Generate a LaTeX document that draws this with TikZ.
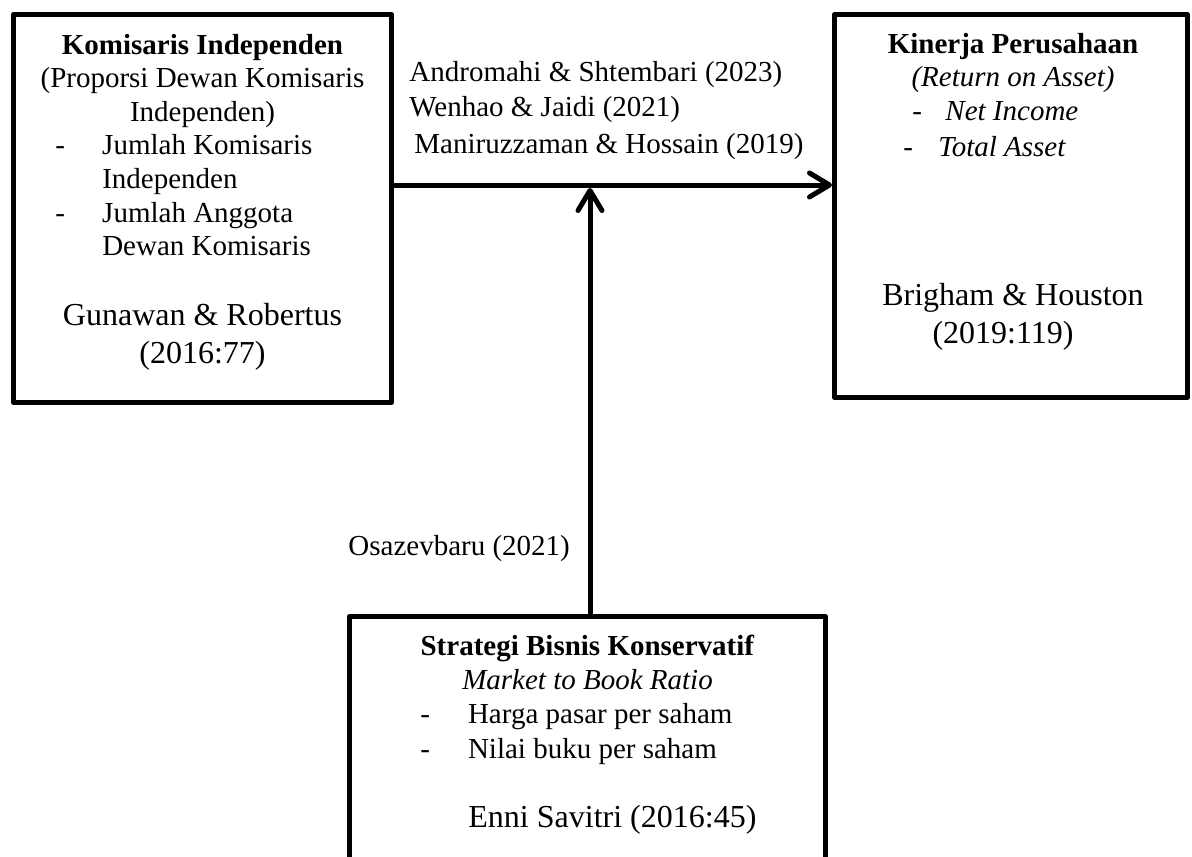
\documentclass[tikz,border=0pt]{standalone}
\usepackage{fontspec}
\setmainfont{Liberation Serif}
\usetikzlibrary{arrows.meta}
\tikzset{
  box/.style={draw, line width=2.5pt, line join=round, inner sep=0pt},
  arr/.style={line width=2.5pt, -{Straight Barb[length=10pt,width=12pt,round]}},
  body/.style={font=\fontsize{14.5}{16.75}\selectfont, inner sep=0pt},
  cite/.style={font=\fontsize{16}{19}\selectfont, inner sep=0pt}
}

\begin{document}
\begin{tikzpicture}[x=0.5pt,y=-0.5pt]
\useasboundingbox (0,0) rectangle (1192,856);
\clip (0,0) rectangle (1192,856);

\node[box, minimum width=189pt, minimum height=194pt] (komisaris) at (202.5,208.5) {};
\node[box, minimum width=176.5pt, minimum height=191.5pt] (kinerja) at (1011,206) {};
\node[box, minimum width=238pt, minimum height=150pt] (strategi) at (587.5,766.5) {};

\coordinate (join) at (590,185);
\draw[arr] (join -| komisaris.east) -- (join -| kinerja.west);
\draw[arr] (strategi.north -| join) -- ([yshift=-1.5pt]join);

\node[body, anchor=base, align=center] (komtitle) at (202.5,121) {\textbf{Komisaris Independen}\\(Proporsi Dewan Komisaris\\Independen)};
\node[body, anchor=base west] (komlist) at (55,155) {\begin{tabular}[t]{@{}l@{\hspace{18.6pt}}l@{}}
- & Jumlah Komisaris\\
  & Independen\\
- & Jumlah Anggota\\
  & Dewan Komisaris
\end{tabular}};
\node[cite, anchor=base, align=center] (komcite) at (202.5,363) {Gunawan \& Robertus\\(2016:77)};

\node[body, anchor=base, align=center] (kintitle) at (1013,87) {\textbf{Kinerja Perusahaan}\\\textit{(Return on Asset)}};
\node[body, anchor=base west] (kinnet) at (912,120) {-\hspace{11.7pt}\textit{Net Income}};
\node[body, anchor=base west] (kintotal) at (903,156) {-\hspace{12.6pt}\textit{Total Asset}};
\node[cite, anchor=base] (kincite) at (1013,305) {Brigham \& Houston};
\node[cite, anchor=base] (kinyear) at (1003,343) {(2019:119)};

\node[body, anchor=base, align=center] (strtitle) at (587.5,689) {\textbf{Strategi Bisnis Konservatif}\\\textit{Market to Book Ratio}};
\node[body, anchor=base west] (strlist) at (420,723) {\begin{tabular}[t]{@{}l@{\hspace{19pt}}l@{}}
- & Harga pasar per saham\\[0.75pt]
- & Nilai buku per saham
\end{tabular}};
\node[cite, anchor=base west] (strcite) at (468,827) {Enni Savitri (2016:45)};

\node[body, anchor=base west] (ref1) at (409,82) {Andromahi \& Shtembari (2023)};
\node[body, anchor=base west] (ref2) at (409,117) {Wenhao \& Jaidi (2021)};
\node[body, anchor=base west] (ref3) at (414,153) {Maniruzzaman \& Hossain (2019)};
\node[body, anchor=base west] (ref4) at (348,555) {Osazevbaru (2021)};
\end{tikzpicture}
\end{document}
